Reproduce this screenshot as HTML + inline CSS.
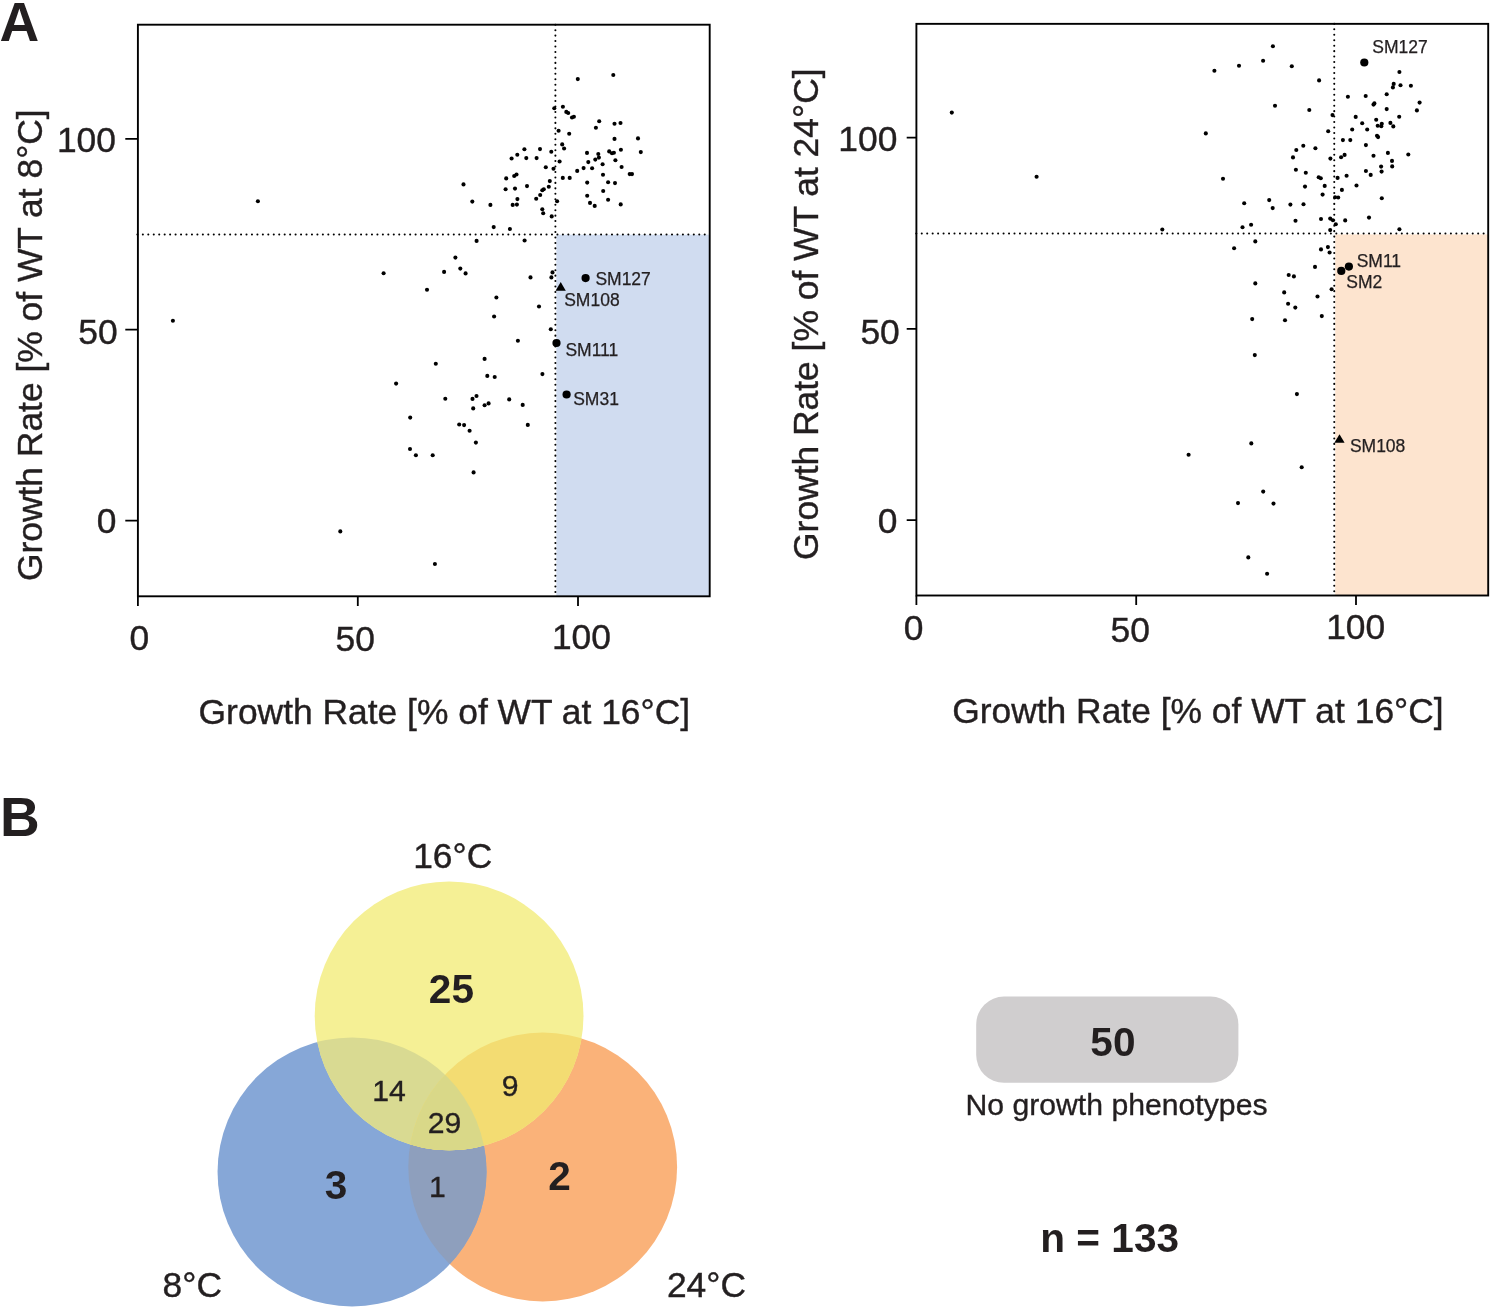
<!DOCTYPE html>
<html><head><meta charset="utf-8"><title>Figure</title>
<style>
html,body{margin:0;padding:0;background:#fff;}
svg{display:block;}
text{font-family:"Liberation Sans",Arial,Helvetica,sans-serif;fill:#231f20;}
.ax{font-size:35.4px;stroke:#231f20;stroke-width:0.4;}
.sm{font-size:17.5px;stroke:#231f20;stroke-width:0.25;}
.n{font-size:30.2px;stroke:#231f20;stroke-width:0.35;}
.bn{font-size:40.6px;font-weight:bold;}
.pl{font-size:55px;font-weight:bold;}
.fr{fill:none;stroke:#000;stroke-width:1.9;}
.tk{stroke:#000;stroke-width:1.8;fill:none;}
.dt{stroke:#000;stroke-width:2.05;stroke-linecap:round;stroke-dasharray:0.01 5.445;fill:none;}
.d circle{fill:#000;}
</style></head><body>
<svg width="1490" height="1308" viewBox="0 0 1490 1308">
<rect width="1490" height="1308" fill="#fff"/>
<rect x="556.3" y="234.7" width="153.4" height="361.6" fill="#d0dcf0"/>
<path class="dt" d="M555.40 24.70V596.3"/>
<path class="dt" d="M137.40 234.50H709.7"/>
<rect class="fr" x="137.90" y="24.70" width="571.80" height="571.60"/>
<path class="tk" d="M137.9 596.3v9.6M357.8 596.3v9.6M578.0 596.3v9.6M137.9 138.9h-12.6M137.9 329.7h-12.6M137.9 520.6h-12.6"/>
<text class="ax" x="129.5" y="650.2">0</text>
<text class="ax" x="335.5" y="651.0">50</text>
<text class="ax" x="551.9" y="649.0">100</text>
<text class="ax" x="56.9" y="151.6">100</text>
<text class="ax" x="78.3" y="343.6">50</text>
<text class="ax" x="96.8" y="532.9">0</text>
<text class="ax" x="198.6" y="723.5">Growth Rate [% of WT at 16°C]</text>
<text class="ax" text-anchor="middle" transform="translate(42.1 345.2) rotate(-90)">Growth Rate [% of WT at 8°C]</text>
<g class="d"><circle cx="613.3" cy="75.0" r="2.05"/><circle cx="577.8" cy="79.1" r="2.05"/><circle cx="562.9" cy="106.8" r="2.05"/><circle cx="554.3" cy="108.3" r="2.05"/><circle cx="566.3" cy="111.9" r="2.05"/><circle cx="568.2" cy="113.0" r="2.05"/><circle cx="572.0" cy="117.5" r="2.05"/><circle cx="573.9" cy="116.8" r="2.05"/><circle cx="599.2" cy="121.3" r="2.05"/><circle cx="614.5" cy="123.7" r="2.05"/><circle cx="620.5" cy="123.0" r="2.05"/><circle cx="595.9" cy="127.8" r="2.05"/><circle cx="558.6" cy="130.7" r="2.05"/><circle cx="569.2" cy="133.7" r="2.05"/><circle cx="638.0" cy="138.4" r="2.05"/><circle cx="614.5" cy="138.9" r="2.05"/><circle cx="562.2" cy="144.4" r="2.05"/><circle cx="564.1" cy="148.5" r="2.05"/><circle cx="524.4" cy="149.3" r="2.05"/><circle cx="540.0" cy="149.1" r="2.05"/><circle cx="620.9" cy="149.7" r="2.05"/><circle cx="551.3" cy="151.7" r="2.05"/><circle cx="609.2" cy="151.4" r="2.05"/><circle cx="612.0" cy="153.2" r="2.05"/><circle cx="613.9" cy="152.7" r="2.05"/><circle cx="587.0" cy="152.9" r="2.05"/><circle cx="598.3" cy="154.0" r="2.05"/><circle cx="640.8" cy="152.1" r="2.05"/><circle cx="517.3" cy="154.7" r="2.05"/><circle cx="511.6" cy="158.5" r="2.05"/><circle cx="526.3" cy="158.1" r="2.05"/><circle cx="536.6" cy="158.1" r="2.05"/><circle cx="598.9" cy="157.6" r="2.05"/><circle cx="595.3" cy="159.6" r="2.05"/><circle cx="615.4" cy="160.2" r="2.05"/><circle cx="559.6" cy="161.5" r="2.05"/><circle cx="588.3" cy="162.1" r="2.05"/><circle cx="602.6" cy="164.3" r="2.05"/><circle cx="545.8" cy="167.3" r="2.05"/><circle cx="553.5" cy="168.8" r="2.05"/><circle cx="583.6" cy="168.1" r="2.05"/><circle cx="592.1" cy="168.3" r="2.05"/><circle cx="621.6" cy="167.0" r="2.05"/><circle cx="577.2" cy="170.9" r="2.05"/><circle cx="629.7" cy="174.1" r="2.05"/><circle cx="632.0" cy="174.1" r="2.05"/><circle cx="603.0" cy="174.7" r="2.05"/><circle cx="516.5" cy="174.5" r="2.05"/><circle cx="514.2" cy="176.0" r="2.05"/><circle cx="506.2" cy="178.4" r="2.05"/><circle cx="562.8" cy="177.9" r="2.05"/><circle cx="569.7" cy="177.9" r="2.05"/><circle cx="549.8" cy="181.1" r="2.05"/><circle cx="463.5" cy="184.4" r="2.05"/><circle cx="587.2" cy="182.6" r="2.05"/><circle cx="608.1" cy="182.2" r="2.05"/><circle cx="615.0" cy="183.1" r="2.05"/><circle cx="527.0" cy="186.1" r="2.05"/><circle cx="548.8" cy="186.7" r="2.05"/><circle cx="505.6" cy="189.2" r="2.05"/><circle cx="515.0" cy="188.6" r="2.05"/><circle cx="543.8" cy="189.2" r="2.05"/><circle cx="542.3" cy="190.3" r="2.05"/><circle cx="603.2" cy="191.0" r="2.05"/><circle cx="540.2" cy="195.0" r="2.05"/><circle cx="587.2" cy="195.7" r="2.05"/><circle cx="536.2" cy="198.7" r="2.05"/><circle cx="517.4" cy="199.1" r="2.05"/><circle cx="608.1" cy="199.7" r="2.05"/><circle cx="472.3" cy="201.6" r="2.05"/><circle cx="557.1" cy="201.2" r="2.05"/><circle cx="590.0" cy="202.9" r="2.05"/><circle cx="490.4" cy="204.9" r="2.05"/><circle cx="512.7" cy="204.9" r="2.05"/><circle cx="516.9" cy="204.6" r="2.05"/><circle cx="620.7" cy="204.4" r="2.05"/><circle cx="594.7" cy="205.9" r="2.05"/><circle cx="542.3" cy="209.3" r="2.05"/><circle cx="543.2" cy="213.2" r="2.05"/><circle cx="551.7" cy="216.4" r="2.05"/><circle cx="493.7" cy="227.1" r="2.05"/><circle cx="509.9" cy="229.0" r="2.05"/><circle cx="476.6" cy="240.9" r="2.05"/><circle cx="524.6" cy="240.5" r="2.05"/><circle cx="257.9" cy="201.2" r="2.05"/><circle cx="383.6" cy="273.2" r="2.05"/><circle cx="172.9" cy="320.7" r="2.05"/><circle cx="396.1" cy="383.6" r="2.05"/><circle cx="410.2" cy="417.6" r="2.05"/><circle cx="410.0" cy="449.0" r="2.05"/><circle cx="415.9" cy="455.3" r="2.05"/><circle cx="455.4" cy="257.6" r="2.05"/><circle cx="460.3" cy="268.6" r="2.05"/><circle cx="444.1" cy="271.9" r="2.05"/><circle cx="465.6" cy="273.4" r="2.05"/><circle cx="427.0" cy="289.7" r="2.05"/><circle cx="530.5" cy="277.4" r="2.05"/><circle cx="552.5" cy="272.4" r="2.05"/><circle cx="551.4" cy="277.4" r="2.05"/><circle cx="496.4" cy="297.5" r="2.05"/><circle cx="539.0" cy="306.5" r="2.05"/><circle cx="494.1" cy="316.5" r="2.05"/><circle cx="550.8" cy="329.3" r="2.05"/><circle cx="517.9" cy="340.7" r="2.05"/><circle cx="484.6" cy="358.9" r="2.05"/><circle cx="435.8" cy="363.7" r="2.05"/><circle cx="542.4" cy="374.1" r="2.05"/><circle cx="487.3" cy="375.9" r="2.05"/><circle cx="494.7" cy="377.0" r="2.05"/><circle cx="445.3" cy="398.7" r="2.05"/><circle cx="476.5" cy="396.0" r="2.05"/><circle cx="472.5" cy="398.9" r="2.05"/><circle cx="509.2" cy="399.4" r="2.05"/><circle cx="488.6" cy="403.4" r="2.05"/><circle cx="484.6" cy="405.3" r="2.05"/><circle cx="522.7" cy="404.9" r="2.05"/><circle cx="473.2" cy="408.4" r="2.05"/><circle cx="459.2" cy="424.5" r="2.05"/><circle cx="464.1" cy="425.1" r="2.05"/><circle cx="527.8" cy="424.9" r="2.05"/><circle cx="469.6" cy="430.8" r="2.05"/><circle cx="475.9" cy="442.6" r="2.05"/><circle cx="432.7" cy="455.3" r="2.05"/><circle cx="473.6" cy="472.4" r="2.05"/><circle cx="340.3" cy="531.4" r="2.05"/><circle cx="434.9" cy="564.0" r="2.05"/><circle cx="585.6" cy="278.1" r="4.1"/><circle cx="556.5" cy="343.0" r="4.1"/><circle cx="566.6" cy="394.5" r="4.1"/><path d="M560.7 282.0L565.8 290.7H555.6Z" fill="#000"/></g>
<text class="sm" x="595.4" y="284.7">SM127</text>
<text class="sm" x="564.2" y="305.9">SM108</text>
<text class="sm" x="565.4" y="356.0">SM111</text>
<text class="sm" x="573.2" y="405.4">SM31</text>
<rect x="1335.2" y="234.4" width="153.1" height="361.1" fill="#fde4cf"/>
<path class="dt" d="M1334.25 23.85V595.5"/>
<path class="dt" d="M916.30 233.55H1488.2"/>
<rect class="fr" x="916.40" y="23.85" width="571.80" height="571.65"/>
<path class="tk" d="M916.4 595.5v9.6M1136.2 595.5v9.6M1356.0 595.5v9.6M916.4 137.7h-9.7M916.4 328.9h-9.7M916.4 520.2h-9.7"/>
<text class="ax" x="903.7" y="640.0">0</text>
<text class="ax" x="1110.5" y="642.0">50</text>
<text class="ax" x="1326.2" y="639.0">100</text>
<text class="ax" x="838.3" y="151.0">100</text>
<text class="ax" x="860.4" y="343.7">50</text>
<text class="ax" x="877.7" y="532.9">0</text>
<text class="ax" x="952.2" y="722.9">Growth Rate [% of WT at 16°C]</text>
<text class="ax" text-anchor="middle" transform="translate(818.4 314.2) rotate(-90)">Growth Rate [% of WT at 24°C]</text>
<g class="d"><circle cx="1272.9" cy="46.3" r="2.05"/><circle cx="1263.1" cy="60.7" r="2.05"/><circle cx="1239.0" cy="65.8" r="2.05"/><circle cx="1291.8" cy="66.2" r="2.05"/><circle cx="1214.4" cy="70.7" r="2.05"/><circle cx="1319.1" cy="80.4" r="2.05"/><circle cx="1399.4" cy="72.0" r="2.05"/><circle cx="1393.7" cy="83.9" r="2.05"/><circle cx="1392.9" cy="87.4" r="2.05"/><circle cx="1400.5" cy="85.3" r="2.05"/><circle cx="1410.9" cy="85.7" r="2.05"/><circle cx="1386.7" cy="94.3" r="2.05"/><circle cx="1365.7" cy="96.0" r="2.05"/><circle cx="1347.9" cy="96.8" r="2.05"/><circle cx="1374.4" cy="103.4" r="2.05"/><circle cx="1373.5" cy="104.6" r="2.05"/><circle cx="1419.6" cy="102.6" r="2.05"/><circle cx="1275.0" cy="105.8" r="2.05"/><circle cx="1309.3" cy="110.0" r="2.05"/><circle cx="1386.7" cy="109.1" r="2.05"/><circle cx="1416.9" cy="110.4" r="2.05"/><circle cx="1332.5" cy="115.1" r="2.05"/><circle cx="1355.7" cy="116.9" r="2.05"/><circle cx="1399.2" cy="116.7" r="2.05"/><circle cx="1376.2" cy="119.8" r="2.05"/><circle cx="1362.2" cy="123.3" r="2.05"/><circle cx="1381.8" cy="123.7" r="2.05"/><circle cx="1381.3" cy="126.2" r="2.05"/><circle cx="1377.7" cy="125.8" r="2.05"/><circle cx="1390.4" cy="122.9" r="2.05"/><circle cx="1393.3" cy="126.4" r="2.05"/><circle cx="1352.2" cy="129.5" r="2.05"/><circle cx="1367.2" cy="129.5" r="2.05"/><circle cx="1328.2" cy="131.3" r="2.05"/><circle cx="1205.8" cy="133.4" r="2.05"/><circle cx="1377.0" cy="135.8" r="2.05"/><circle cx="1378.1" cy="137.1" r="2.05"/><circle cx="1342.9" cy="140.1" r="2.05"/><circle cx="1350.3" cy="140.1" r="2.05"/><circle cx="1303.3" cy="145.7" r="2.05"/><circle cx="1315.4" cy="148.2" r="2.05"/><circle cx="1365.9" cy="145.1" r="2.05"/><circle cx="1296.3" cy="150.0" r="2.05"/><circle cx="1387.9" cy="152.9" r="2.05"/><circle cx="1408.3" cy="154.5" r="2.05"/><circle cx="1344.6" cy="154.9" r="2.05"/><circle cx="1341.1" cy="157.2" r="2.05"/><circle cx="1373.5" cy="155.8" r="2.05"/><circle cx="1293.0" cy="157.4" r="2.05"/><circle cx="1330.4" cy="158.6" r="2.05"/><circle cx="1392.0" cy="160.9" r="2.05"/><circle cx="1381.1" cy="166.6" r="2.05"/><circle cx="1392.2" cy="166.4" r="2.05"/><circle cx="1295.9" cy="169.7" r="2.05"/><circle cx="1365.9" cy="171.0" r="2.05"/><circle cx="1381.6" cy="171.6" r="2.05"/><circle cx="1305.8" cy="172.8" r="2.05"/><circle cx="1370.7" cy="174.9" r="2.05"/><circle cx="1346.6" cy="175.7" r="2.05"/><circle cx="1318.7" cy="177.3" r="2.05"/><circle cx="1320.8" cy="178.3" r="2.05"/><circle cx="1337.6" cy="177.9" r="2.05"/><circle cx="1223.0" cy="178.8" r="2.05"/><circle cx="1356.5" cy="185.5" r="2.05"/><circle cx="1305.0" cy="186.6" r="2.05"/><circle cx="1324.7" cy="185.9" r="2.05"/><circle cx="1341.9" cy="189.9" r="2.05"/><circle cx="1322.6" cy="194.6" r="2.05"/><circle cx="1335.1" cy="197.2" r="2.05"/><circle cx="1338.2" cy="197.5" r="2.05"/><circle cx="1381.8" cy="198.3" r="2.05"/><circle cx="1269.2" cy="200.1" r="2.05"/><circle cx="1244.2" cy="203.2" r="2.05"/><circle cx="1290.4" cy="204.6" r="2.05"/><circle cx="1303.5" cy="204.2" r="2.05"/><circle cx="1272.7" cy="208.1" r="2.05"/><circle cx="1369.0" cy="217.6" r="2.05"/><circle cx="1321.0" cy="219.0" r="2.05"/><circle cx="1330.2" cy="218.6" r="2.05"/><circle cx="1332.9" cy="220.2" r="2.05"/><circle cx="1345.2" cy="220.4" r="2.05"/><circle cx="1295.5" cy="220.7" r="2.05"/><circle cx="1335.8" cy="224.2" r="2.05"/><circle cx="1251.1" cy="224.8" r="2.05"/><circle cx="1242.5" cy="227.2" r="2.05"/><circle cx="1399.4" cy="229.3" r="2.05"/><circle cx="1330.2" cy="230.1" r="2.05"/><circle cx="1255.3" cy="241.4" r="2.05"/><circle cx="1234.1" cy="248.2" r="2.05"/><circle cx="1327.9" cy="247.1" r="2.05"/><circle cx="1321.0" cy="249.4" r="2.05"/><circle cx="1329.6" cy="252.5" r="2.05"/><circle cx="1315.0" cy="266.9" r="2.05"/><circle cx="1288.7" cy="275.0" r="2.05"/><circle cx="1293.9" cy="276.4" r="2.05"/><circle cx="1255.3" cy="283.4" r="2.05"/><circle cx="1331.6" cy="289.2" r="2.05"/><circle cx="1284.2" cy="292.4" r="2.05"/><circle cx="1317.5" cy="296.5" r="2.05"/><circle cx="1288.1" cy="303.7" r="2.05"/><circle cx="1295.3" cy="307.6" r="2.05"/><circle cx="1321.8" cy="316.1" r="2.05"/><circle cx="1252.2" cy="319.1" r="2.05"/><circle cx="1285.0" cy="320.2" r="2.05"/><circle cx="1254.8" cy="355.1" r="2.05"/><circle cx="1296.9" cy="394.1" r="2.05"/><circle cx="1251.3" cy="443.4" r="2.05"/><circle cx="1301.7" cy="467.2" r="2.05"/><circle cx="951.8" cy="112.6" r="2.05"/><circle cx="1036.6" cy="176.8" r="2.05"/><circle cx="1162.3" cy="229.5" r="2.05"/><circle cx="1188.6" cy="454.7" r="2.05"/><circle cx="1263.2" cy="491.6" r="2.05"/><circle cx="1238.0" cy="503.1" r="2.05"/><circle cx="1273.5" cy="503.6" r="2.05"/><circle cx="1248.3" cy="557.4" r="2.05"/><circle cx="1267.1" cy="573.8" r="2.05"/><circle cx="1364.3" cy="62.5" r="4.1"/><circle cx="1348.9" cy="266.6" r="4.1"/><circle cx="1341.3" cy="270.9" r="4.1"/><path d="M1339.5 434.2L1344.6 442.8H1334.4Z" fill="#000"/></g>
<text class="sm" x="1372.3" y="52.9">SM127</text>
<text class="sm" x="1356.7" y="267.2">SM11</text>
<text class="sm" x="1346.3" y="288.4">SM2</text>
<text class="sm" x="1349.9" y="452.3">SM108</text>
<text class="pl" x="-0.4" y="40.7">A</text>
<text class="pl" x="0" y="835.6">B</text>
<defs>
<clipPath id="cY"><circle cx="449.10" cy="1015.90" r="134.40"/></clipPath>
<clipPath id="cB"><circle cx="352.05" cy="1171.90" r="134.50"/></clipPath>
</defs>
<circle cx="542.70" cy="1167.00" r="134.40" fill="#fab279"/>
<circle cx="352.05" cy="1171.90" r="134.50" fill="#86a7d7"/>
<circle cx="542.70" cy="1167.00" r="134.40" fill="#8e9fbd" clip-path="url(#cB)"/>
<circle cx="449.10" cy="1015.90" r="134.40" fill="#f5f095"/>
<circle cx="352.05" cy="1171.90" r="134.50" fill="#d9da92" clip-path="url(#cY)"/>
<circle cx="542.70" cy="1167.00" r="134.40" fill="#f3dc72" clip-path="url(#cY)"/>
<g clip-path="url(#cY)"><circle cx="542.70" cy="1167.00" r="134.40" fill="#d9d888" clip-path="url(#cB)"/></g>
<text class="ax" x="413.2" y="868">16°C</text>
<text class="ax" x="162.6" y="1297.4">8°C</text>
<text class="ax" x="666.9" y="1296.8">24°C</text>
<text class="bn" text-anchor="middle" x="451.4" y="1003.3">25</text>
<text class="bn" text-anchor="middle" x="336.0" y="1198.5">3</text>
<text class="bn" text-anchor="middle" x="559.5" y="1190.3">2</text>
<text class="n" text-anchor="middle" x="389.0" y="1100.7">14</text>
<text class="n" text-anchor="middle" x="510.2" y="1095.6">9</text>
<text class="n" text-anchor="middle" x="444.5" y="1133">29</text>
<text class="n" text-anchor="middle" x="437.5" y="1196.7">1</text>
<rect x="976.2" y="996.6" width="262.2" height="86.2" rx="27.8" ry="27.8" fill="#d0cecf"/>
<text class="bn" text-anchor="middle" x="1112.9" y="1056.3">50</text>
<text class="n" text-anchor="middle" x="1116.5" y="1115">No growth phenotypes</text>
<text class="bn" text-anchor="middle" x="1109.7" y="1252">n = 133</text>
</svg>
</body></html>
